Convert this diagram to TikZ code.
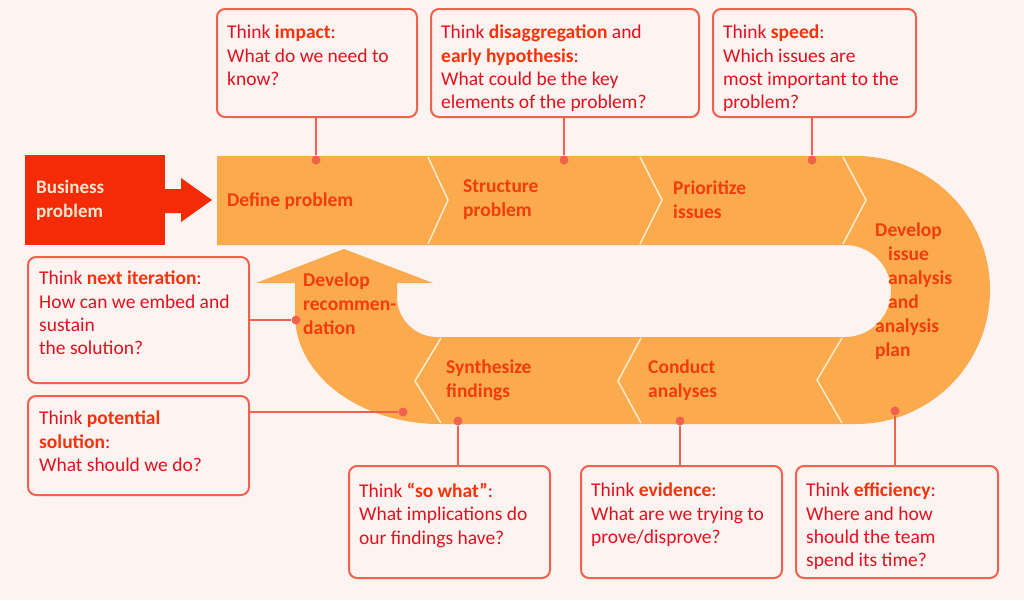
\documentclass[tikz,border=0pt]{standalone}
\usepackage{fontspec}
\setmainfont{Carlito}
\usepackage{tikz}
\usepackage{color}
\definecolor{bg}{HTML}{FDF3F0}
\definecolor{band}{HTML}{FBAA4D}
\definecolor{chev}{HTML}{FFEBD0}
\definecolor{steptxt}{HTML}{F23C0B}
\definecolor{thinkred}{HTML}{E3101E}
\definecolor{boldred}{HTML}{F5330A}
\definecolor{boxline}{HTML}{F0624E}
\definecolor{bizred}{HTML}{F52A06}
\definecolor{biztxt}{HTML}{FDE5D0}
\newcommand{\kw}[1]{\textcolor{boldred}{\bfseries #1}}

\begin{document}
\begin{tikzpicture}[x=1pt,y=-1pt,
  thinkbox/.style={draw=boxline, line width=2pt, rounded corners=8pt, anchor=north west, inner sep=0pt},
  thinktext/.style={anchor=north west, inner sep=0pt, align=left, text=thinkred, font=\fontsize{19.5}{23.2}\selectfont},
  steplabel/.style={anchor=west, inner sep=0pt, align=left, text=steptxt, font=\fontsize{19.5}{24}\selectfont\bfseries},
  chevline/.style={draw=chev, line width=1.5pt},
  conn/.style={draw=boxline, line width=2pt},
  dot/.style={circle, fill=boxline, inner sep=0pt, minimum size=9pt}]
\useasboundingbox (0,0) rectangle (1024,600);
\fill[bg] (0,0) rectangle (1024,600);

%the loop
\fill[band] (217,156) -- (856,156) arc[start angle=-90, end angle=90, radius=134]
  -- (440,424) arc[start angle=90, end angle=180, x radius=145, y radius=109]
  -- (295,283) -- (256,283) -- (344,249) -- (433,283) -- (397,283) -- (397,297)
  arc[start angle=180, end angle=90, radius=40]
  -- (845,337) arc[start angle=90, end angle=-90, radius=46]
  -- (217,245) -- cycle;

\draw[chevline] (428,157) -- (448,200) -- (428,244);
\draw[chevline] (640,157) -- (662,200) -- (640,244);
\draw[chevline] (843,157) -- (866,200) -- (843,244);
\draw[chevline] (842,338) -- (817,380) -- (842,423);
\draw[chevline] (641,338) -- (618,381) -- (641,423);
\draw[chevline] (441,338) -- (415,381) -- (441,423);

%start
\node[fill=bizred, minimum width=140, minimum height=90, anchor=north west, inner sep=0pt] (biz) at (25,155) {};
\node[anchor=west, inner sep=0pt, align=left, text=biztxt, font=\fontsize{19}{24}\selectfont\bfseries] (biztext) at (36,200) {Business\\problem};
\fill[bizred] (165,189) -- (181,189) -- (181,178) -- (212,200) -- (181,222) -- (181,213) -- (165,213) -- cycle;

%steps
\node[steplabel] (define) at (227,201) {Define problem};
\node[steplabel] (structure) at (463,200) {Structure\\problem};
\node[steplabel] (prioritize) at (673,200) {Prioritize\\issues};
\node[steplabel] (plan) at (875,291) {Develop\\\hspace*{13pt}issue\\\hspace*{13pt}analysis\\\hspace*{13pt}and\\analysis\\plan};
\node[steplabel] (conduct) at (648,380) {Conduct\\analyses};
\node[steplabel] (synth) at (446,380) {Synthesize\\findings};
\node[steplabel] (recomm) at (303,304) {Develop\\recommen-\\dation};

%think boxes
\node[thinkbox, minimum width=200, minimum height=108] (impact) at (216,8) {};
\node[thinktext] (impact text) at ([shift={(11,17)}]impact.north west) {Think \kw{impact}:\\What do we need to\\know?};
\node[thinkbox, minimum width=268, minimum height=108] (disagg) at (430,8) {};
\node[thinktext] (disagg text) at ([shift={(11,17)}]disagg.north west) {Think \kw{disaggregation} and\\\kw{early hypothesis}:\\What could be the key\\elements of the problem?};
\node[thinkbox, minimum width=203, minimum height=108] (speed) at (712,8) {};
\node[thinktext] (speed text) at ([shift={(11,17)}]speed.north west) {Think \kw{speed}:\\Which issues are\\most important to the\\problem?};
\node[thinkbox, minimum width=221, minimum height=126] (nextit) at (27,256) {};
\node[thinktext] (nextit text) at ([shift={(12,15)}]nextit.north west) {Think \kw{next iteration}:\\How can we embed and\\sustain\\the solution?};
\node[thinkbox, minimum width=221, minimum height=99] (potsol) at (27,395) {};
\node[thinktext] (potsol text) at ([shift={(12,16)}]potsol.north west) {Think \kw{potential}\\\kw{solution}:\\What should we do?};
\node[thinkbox, minimum width=201, minimum height=112] (sowhat) at (348,465) {};
\node[thinktext] (sowhat text) at ([shift={(11,18)}]sowhat.north west) {Think \kw{``so what''}:\\What implications do\\our findings have?};
\node[thinkbox, minimum width=201, minimum height=112] (evid) at (580,465) {};
\node[thinktext] (evid text) at ([shift={(11,18)}]evid.north west) {Think \kw{evidence}:\\What are we trying to\\prove/disprove?};
\node[thinkbox, minimum width=202, minimum height=112] (effic) at (795,465) {};
\node[thinktext] (effic text) at ([shift={(11,18)}]effic.north west) {Think \kw{efficiency}:\\Where and how\\should the team\\spend its time?};

%pins on the loop
\node[dot] (d1) at (316,160) {};
\node[dot] (d2) at (564,160) {};
\node[dot] (d3) at (812,160) {};
\node[dot] (d4) at (296,320) {};
\node[dot] (d5) at (403,412) {};
\node[dot] (d6) at (458,421) {};
\node[dot] (d7) at (680,421) {};
\node[dot] (d8) at (895,411) {};
\draw[conn] (d1 |- impact.south) -- (d1);
\draw[conn] (d2 |- disagg.south) -- (d2);
\draw[conn] (d3 |- speed.south) -- (d3);
\draw[conn] (d4 -| nextit.east) -- (d4);
\draw[conn] (d5 -| potsol.east) -- (d5);
\draw[conn] (d6 |- sowhat.north) -- (d6);
\draw[conn] (d7 |- evid.north) -- (d7);
\draw[conn] (d8 |- effic.north) -- (d8);
\end{tikzpicture}
\end{document}
